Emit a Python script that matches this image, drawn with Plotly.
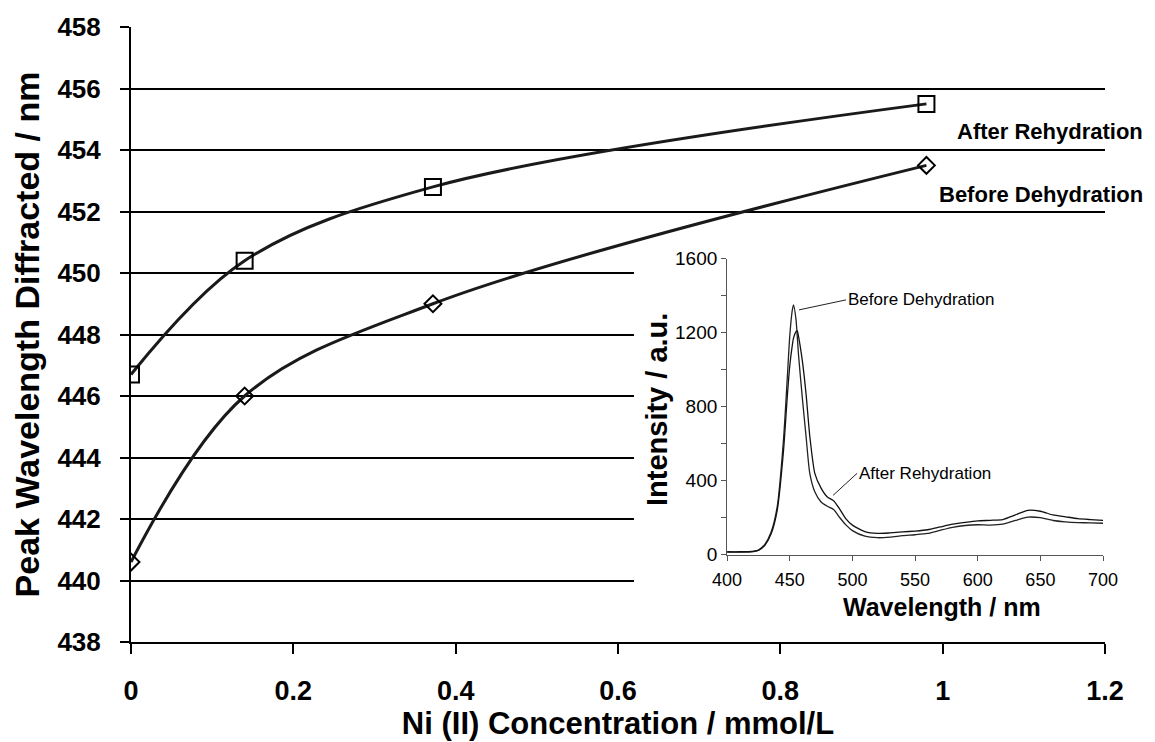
import plotly.graph_objects as go

# ---- main chart data ----
conc = [0.0, 0.14, 0.372, 0.98]
after_rehyd = [446.7, 450.4, 452.8, 455.5]
before_dehyd = [440.6, 446.0, 449.0, 453.5]

x_ticks = [0, 0.2, 0.4, 0.6, 0.8, 1.0, 1.2]
x_tick_text = ["0", "0.2", "0.4", "0.6", "0.8", "1", "1.2"]
y_ticks = [438, 440, 442, 444, 446, 448, 450, 452, 454, 456, 458]

# ---- inset spectra data ----
wl = [400, 410, 420, 425, 430, 435, 440, 445, 448, 450, 452, 453, 455, 456, 457,
      460, 463, 466, 470, 475, 480, 485, 490, 495, 500, 510, 520, 530, 540, 550,
      560, 570, 580, 590, 600, 610, 620, 630, 640, 650, 660, 670, 680, 690, 700]
spec_before = [14, 14, 16, 25, 55, 120, 260, 620, 950, 1180, 1320, 1350, 1270, 1180, 1080,
               850, 640, 440, 340, 285, 262, 245, 200, 160, 130, 100, 92, 95, 103, 108,
               115, 132, 148, 158, 162, 160, 165, 185, 203, 200, 185, 178, 174, 172, 170]
spec_after = [16, 16, 18, 24, 50, 110, 240, 560, 850, 1020, 1130, 1170, 1205, 1210, 1180,
              1050, 870, 640, 440, 360, 312, 292, 245, 192, 160, 125, 115, 118, 123, 128,
              135, 150, 165, 175, 183, 186, 190, 215, 240, 235, 215, 205, 195, 190, 186]
inset_y_ticks = [0, 200, 400, 600, 800, 1000, 1200, 1400, 1600]
inset_y_text = ["0", "", "400", "", "800", "", "1200", "", "1600"]

FONT = "Liberation Sans"
LINE = "#1a1a1a"

fig = go.Figure()

# main curves
fig.add_trace(go.Scatter(
    x=conc, y=after_rehyd, mode="lines+markers", line=dict(shape="spline", color=LINE, width=3),
    marker=dict(symbol="square-open", size=16, color="black", line=dict(width=2, color="black")),
    xaxis="x", yaxis="y", showlegend=False, name="After Rehydration"))
fig.add_trace(go.Scatter(
    x=conc, y=before_dehyd, mode="lines+markers", line=dict(shape="spline", color=LINE, width=3),
    marker=dict(symbol="diamond-open", size=13, color="black", line=dict(width=2, color="black")),
    xaxis="x", yaxis="y", showlegend=False, name="Before Dehydration"))

# inset spectra
fig.add_trace(go.Scatter(
    x=wl, y=spec_before, mode="lines", line=dict(color="#222222", width=1.3, shape="spline", smoothing=0.6),
    xaxis="x2", yaxis="y2", showlegend=False, name="Before Dehydration"))
fig.add_trace(go.Scatter(
    x=wl, y=spec_after, mode="lines", line=dict(color="#111111", width=1.3, shape="spline", smoothing=0.6),
    xaxis="x2", yaxis="y2", showlegend=False, name="After Rehydration"))

fig.update_layout(
    width=1155, height=742,
    margin=dict(l=131, r=50, t=23, b=99),
    paper_bgcolor="white", plot_bgcolor="white",
    font=dict(family=FONT, color="black"),
    xaxis=dict(
        domain=[0, 1], range=[0, 1.2], tickvals=x_ticks, ticktext=x_tick_text,
        showgrid=False, zeroline=False, showline=True, linecolor="black", linewidth=2,
        ticks="outside", ticklen=10, tickwidth=2, tickcolor="black",
        tickfont=dict(size=27, family=FONT, weight="bold"), ticklabelstandoff=14,
        title=dict(text="Ni (II) Concentration / mmol/L", font=dict(size=31, family=FONT, weight="bold"),
                   standoff=2),
    ),
    yaxis=dict(
        domain=[0, 1], range=[438, 458], tickvals=y_ticks,
        showgrid=True, gridcolor="black", gridwidth=2, zeroline=False,
        showline=True, linecolor="black", linewidth=2,
        ticks="outside", ticklen=9, tickwidth=2, tickcolor="black",
        tickfont=dict(size=26, family=FONT, weight="bold"), ticklabelstandoff=14,
        title=dict(text="Peak Wavelength Diffracted / nm", font=dict(size=34, family=FONT, weight="bold"),
                   standoff=8),
    ),
    xaxis2=dict(
        domain=[0.612, 0.998], anchor="y2", range=[400, 700], dtick=50, tick0=400,
        showgrid=False, zeroline=False, showline=True, linecolor="#555555", linewidth=1,
        ticks="outside", ticklen=5, tickwidth=1, tickcolor="#555555",
        tickfont=dict(size=18, family=FONT), ticklabelstandoff=4,
    ),
    yaxis2=dict(
        domain=[0.1419, 0.6234], anchor="x2", range=[0, 1600], tickvals=inset_y_ticks,
        ticktext=inset_y_text,
        showgrid=False, zeroline=False, showline=True, linecolor="#555555", linewidth=1,
        ticks="outside", ticklen=5, tickwidth=1, tickcolor="#555555",
        tickfont=dict(size=19, family=FONT), ticklabelstandoff=0,
    ),
    shapes=[dict(type="rect", xref="x", yref="y", x0=0.6197, x1=1.2, y0=438.1, y1=450.87,
                 fillcolor="white", line=dict(width=0), layer="between")],
    annotations=[
        dict(text="Wavelength / nm", xref="paper", yref="paper", x=0.8327, y=(643 - 608) / 620.3,
             xanchor="center", yanchor="middle", showarrow=False,
             font=dict(size=25, family=FONT, weight="bold")),
        dict(text="Intensity / a.u.", xref="paper", yref="paper", x=(657 - 131) / 974,
             y=(643 - 409) / 620.3, textangle=-90,
             xanchor="center", yanchor="middle", showarrow=False,
             font=dict(size=29, family=FONT, weight="bold")),
        dict(text="After Rehydration", xref="paper", yref="paper", x=1.041, y=0.830,
             xanchor="right", yanchor="middle", showarrow=False,
             font=dict(size=22, family=FONT, weight="bold")),
        dict(text="Before Dehydration", xref="paper", yref="paper", x=1.041, y=0.727,
             xanchor="right", yanchor="middle", showarrow=False,
             font=dict(size=22, family=FONT, weight="bold")),
        dict(text="Before Dehydration", xref="x2", yref="y2", x=457.4, y=1323,
             ax=47, ay=-10, xanchor="left", yanchor="middle", showarrow=True,
             arrowhead=0, arrowwidth=1, arrowcolor="#222222",
             font=dict(size=17, family=FONT)),
        dict(text="After Rehydration", xref="x2", yref="y2", x=484.6, y=321,
             ax=24, ay=-22, xanchor="left", yanchor="middle", showarrow=True,
             arrowhead=0, arrowwidth=1, arrowcolor="#222222",
             font=dict(size=17, family=FONT)),
    ],
)

fig.write_html("out.html")
